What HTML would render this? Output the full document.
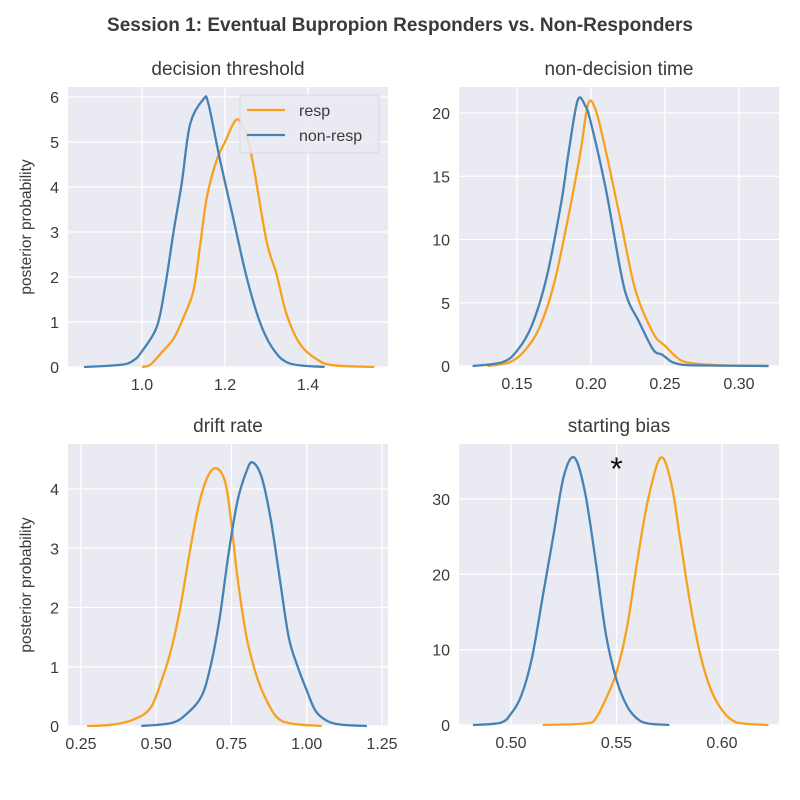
<!DOCTYPE html>
<html><head><meta charset="utf-8"><style>
body{margin:0;background:#fff}
svg{display:block;font-family:"Liberation Sans","DejaVu Sans",sans-serif}
</style></head><body>
<svg id="c" width="800" height="800" viewBox="0 0 800 800">
<text x="400" y="31" text-anchor="middle" font-size="19" font-weight="bold" fill="#3a3a3a">Session 1: Eventual Bupropion Responders vs. Non-Responders</text>
</svg>
<script>
// ---- data ----
const dtRespX=[1.0,1.02,1.05,1.076,1.10,1.124,1.14,1.156,1.18,1.20,1.228,1.25,1.268,1.30,1.324,1.348,1.38,1.42,1.46,1.56];
const dtRespY=[0,0.05,0.35,0.63,1.1,1.7,2.7,3.76,4.6,5.0,5.5,5.2,4.5,2.8,2.07,1.18,0.52,0.18,0.04,0];
const dtNonX=[0.86,0.95,0.98,1.0,1.036,1.056,1.076,1.096,1.116,1.148,1.16,1.188,1.22,1.252,1.284,1.316,1.356,1.44];
const dtNonY=[0,0.05,0.15,0.35,0.9,1.8,3.0,4.1,5.4,5.95,5.85,4.6,3.3,2.0,1.0,0.4,0.08,0];
const ndtNonX=[0.12,0.14,0.15,0.16,0.17,0.18,0.185,0.191,0.196,0.20,0.21,0.22,0.225,0.232,0.242,0.248,0.255,0.262,0.27,0.30,0.32];
const ndtNonY=[0,0.3,1.2,3.2,7,13,17,21,20.6,19.2,14,7.5,5.2,3.6,1.3,0.9,0.3,0.1,0.05,0.02,0];
const ndtRespX=[0.13,0.145,0.155,0.165,0.175,0.185,0.193,0.198,0.203,0.21,0.22,0.23,0.242,0.25,0.26,0.27,0.29,0.32];
const ndtRespY=[0,0.3,1.2,3.0,6.5,12,17,20.7,20.3,17,11.5,6,2.6,1.6,0.5,0.2,0.05,0];
const drRespX=[0.27,0.35,0.42,0.48,0.52,0.55,0.58,0.61,0.64,0.67,0.70,0.73,0.75,0.77,0.80,0.83,0.86,0.90,0.95,1.05];
const drRespY=[0,0.02,0.1,0.3,0.8,1.3,2.0,2.9,3.7,4.2,4.35,4.1,3.4,2.5,1.5,0.9,0.5,0.15,0.04,0];
const drNonX=[0.45,0.55,0.60,0.65,0.68,0.71,0.74,0.77,0.80,0.82,0.85,0.88,0.91,0.94,0.97,1.00,1.03,1.07,1.12,1.2];
const drNonY=[0,0.05,0.2,0.5,1.0,1.8,2.9,3.8,4.3,4.45,4.2,3.5,2.5,1.5,1.0,0.6,0.25,0.08,0.02,0];
const sbNonX=[0.482,0.495,0.50,0.505,0.51,0.515,0.52,0.525,0.53,0.535,0.54,0.545,0.55,0.555,0.56,0.565,0.575];
const sbNonY=[0,0.3,1.5,4,9,17,25,33,35.5,31,22,12,6,2.5,0.8,0.2,0];
const sbRespX=[0.515,0.535,0.54,0.545,0.55,0.555,0.56,0.565,0.571,0.576,0.58,0.585,0.59,0.595,0.60,0.605,0.61,0.622];
const sbRespY=[0,0.2,0.8,3.5,7,13,22,30,35.5,32,25,16,9,4.5,2,0.6,0.2,0];
const dtXTicks=[1.0,1.2,1.4], dtYTicks=[0,1,2,3,4,5,6];
const ndtXTicks=[0.15,0.20,0.25,0.30], ndtYTicks=[0,5,10,15,20];
const drXTicks=[0.25,0.50,0.75,1.00,1.25], drYTicks=[0,1,2,3,4];
const sbXTicks=[0.50,0.55,0.60], sbYTicks=[0,10,20,30];

const NS="http://www.w3.org/2000/svg", svg=document.getElementById('c');
const ORANGE="#f8a11f", BLUE="#4682b4";
function mk(t,a,p){const e=document.createElementNS(NS,t);for(const k in a)e.setAttribute(k,a[k]);(p||svg).appendChild(e);return e;}
function lin(d0,d1,r0,r1){return v=>r0+(v-d0)/(d1-d0)*(r1-r0);}
function path(xs,ys,sx,sy){const p=xs.map((x,i)=>[sx(x),sy(ys[i])]);let d="M"+p[0][0]+","+p[0][1];
 for(let i=0;i<p.length-1;i++){const p0=p[i-1]||p[i],p1=p[i],p2=p[i+1],p3=p[i+2]||p2;
  const c1=[p1[0]+(p2[0]-p0[0])/6,p1[1]+(p2[1]-p0[1])/6],c2=[p2[0]-(p3[0]-p1[0])/6,p2[1]-(p3[1]-p1[1])/6];
  d+=`C${c1[0]},${Math.min(c1[1],sy(0))} ${c2[0]},${Math.min(c2[1],sy(0))} ${p2[0]},${p2[1]}`;}return d;}
function panel(o){
 const g=mk('g',{});
 
 
 const bg=mk('rect',{x:o.L,y:o.T,width:o.R-o.L,height:o.B-o.T,fill:'#eaeaf2'},g);
 
 const sx=lin(o.xd[0],o.xd[1],o.xr[0],o.xr[1]), sy=lin(o.yd[0],o.yd[1],o.yr[0],o.yr[1]);
 o.xt.forEach(v=>{const x=sx(v);mk('line',{x1:x,x2:x,y1:o.T,y2:o.B,stroke:'#fff','stroke-width':1.3},g);
  const t=mk('text',{x:x,y:o.B+23,'text-anchor':'middle','font-size':16,fill:'#3a3a3a'},g);t.textContent=v.toFixed(o.xf);
  });
 o.yt.forEach(v=>{const y=sy(v);mk('line',{x1:o.L,x2:o.R,y1:y,y2:y,stroke:'#fff','stroke-width':1.3},g);
  const t=mk('text',{x:o.L-9,y:y+6,'text-anchor':'end','font-size':16,fill:'#3a3a3a'},g);t.textContent=v;
  });
 const tt=mk('text',{x:(o.L+o.R)/2,y:o.T-12,'text-anchor':'middle','font-size':19,fill:'#3a3a3a'},g);tt.textContent=o.title;
 
 if(o.ylab){const yl=mk('text',{x:0,y:0,transform:`translate(${o.L-37},${(o.T+o.B)/2}) rotate(-90)`,'text-anchor':'middle','font-size':15.5,fill:'#3a3a3a'},g);yl.textContent='posterior probability';
  }
 const cr=mk('path',{d:path(o.rx,o.ry,sx,sy),fill:'none',stroke:ORANGE,'stroke-width':2.3,'stroke-linejoin':'round'},g);
 
 const cn=mk('path',{d:path(o.nx,o.ny,sx,sy),fill:'none',stroke:BLUE,'stroke-width':2.3,'stroke-linejoin':'round'},g);
 
 return {sx,sy,g};
}
panel({name:'decision-threshold-panel',L:68,R:388,T:87,B:367,xd:[1.0,1.2],xr:[142,225],yd:[0,6],yr:[367,97],xt:dtXTicks,yt:dtYTicks,xf:1,title:'decision threshold',ylab:1,rx:dtRespX,ry:dtRespY,nx:dtNonX,ny:dtNonY});
panel({name:'non-decision-time-panel',L:459,R:779,T:87,B:366,xd:[0.15,0.20],xr:[517,591],yd:[0,20],yr:[366,113],xt:ndtXTicks,yt:ndtYTicks,xf:2,title:'non-decision time',rx:ndtRespX,ry:ndtRespY,nx:ndtNonX,ny:ndtNonY});
panel({name:'drift-rate-panel',L:68,R:388,T:444,B:726,xd:[0.25,1.25],xr:[81,382],yd:[0,4],yr:[726,489],xt:drXTicks,yt:drYTicks,xf:2,title:'drift rate',ylab:1,rx:drRespX,ry:drRespY,nx:drNonX,ny:drNonY});
const sb=panel({name:'starting-bias-panel',L:459,R:779,T:444,B:725,xd:[0.50,0.60],xr:[511,722],yd:[0,30],yr:[725,499],xt:sbXTicks,yt:sbYTicks,xf:2,title:'starting bias',rx:sbRespX,ry:sbRespY,nx:sbNonX,ny:sbNonY});
const st=mk('text',{x:sb.sx(0.55),y:480,'text-anchor':'middle','font-size':32,fill:'#111'});st.textContent='*';


// legend
const lg=mk('g',{});


mk('rect',{x:240,y:95,width:139,height:58,rx:3,fill:'#eaeaf2','fill-opacity':0.85,stroke:'#d8d8e0'},lg);
mk('line',{x1:247,x2:285,y1:110,y2:110,stroke:ORANGE,'stroke-width':2.3},lg);
mk('line',{x1:247,x2:285,y1:135,y2:135,stroke:BLUE,'stroke-width':2.3},lg);
const l1=mk('text',{x:299,y:116,'font-size':16,fill:'#3a3a3a'},lg);l1.textContent='resp';


const l2=mk('text',{x:299,y:141,'font-size':16,fill:'#3a3a3a'},lg);l2.textContent='non-resp';


</script>
</body></html>
